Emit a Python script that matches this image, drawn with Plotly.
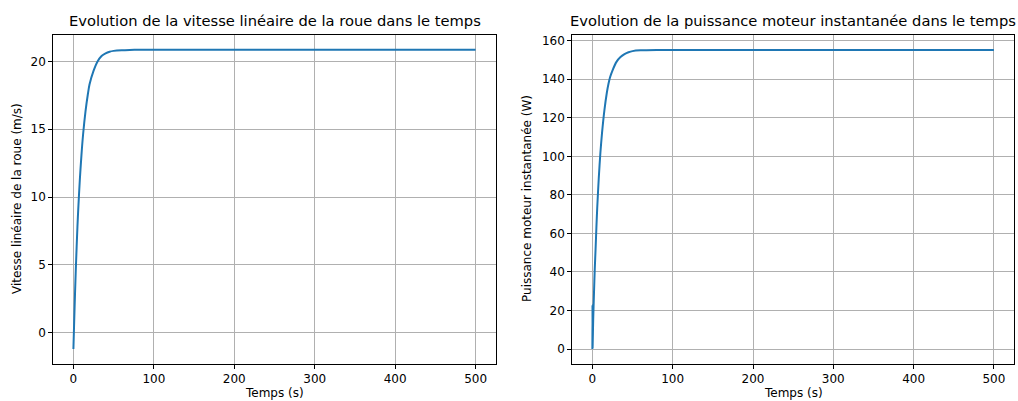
import plotly.graph_objects as go

# Data
t_vitesse = [0, 1, 2, 3, 4, 5, 6, 8, 10, 12, 15, 18, 20, 25, 30, 35, 40, 45, 50, 60, 70, 80, 100, 200, 300, 400, 500]
vitesse = [-1.2, 0.9, 2.9, 4.7, 6.3, 7.8, 9.1, 11.3, 13.1, 14.6, 16.3, 17.6, 18.3, 19.3, 20.0, 20.4, 20.6,
           20.72, 20.78, 20.83, 20.85, 20.86, 20.86, 20.86, 20.86, 20.86, 20.86]

t_puissance = [0, 0.15, 0.3, 1, 2, 3, 4, 5, 6, 8, 10, 12, 15, 18, 20, 22, 25, 30, 35, 40, 45, 50, 60, 80, 100,
               200, 300, 400, 500]
puissance = [0, 23, 1, 15, 29, 42, 52, 63, 73, 89, 102, 112, 124, 133, 137.5, 141, 144.5, 149, 151.5, 153, 154,
             154.6, 155, 155.2, 155.2, 155.2, 155.2, 155.2, 155.2]

titles = ["Evolution de la vitesse linéaire de la roue dans le temps",
          "Evolution de la puissance moteur instantanée dans le temps"]
ylabels = ["Vitesse linéaire de la roue (m/s)", "Puissance moteur instantanée (W)"]
xlabel = "Temps (s)"
x_ticks = [0, 100, 200, 300, 400, 500]
y_ticks_v = [0, 5, 10, 15, 20]
y_ticks_p = [0, 20, 40, 60, 80, 100, 120, 140, 160]

W, H = 1018, 401
BLUE = "#1f77b4"
FONT = "DejaVu Sans"

fig = go.Figure()
fig.add_trace(go.Scatter(x=t_vitesse, y=vitesse, mode="lines",
                         line=dict(color=BLUE, width=2, shape="spline", smoothing=0.8),
                         xaxis="x", yaxis="y", showlegend=False))
fig.add_trace(go.Scatter(x=t_puissance, y=puissance, mode="lines",
                         line=dict(color=BLUE, width=2, shape="spline", smoothing=0.7),
                         xaxis="x2", yaxis="y2", showlegend=False))

mt, mb = 35, 37
PH = H - mt - mb
d1 = [53.3 / W, 495.7 / W]
d2 = [572.3 / W, 1014 / W]

axis_common = dict(showline=True, mirror=True, linecolor="black", linewidth=1, ticks="outside", ticklen=4,
                   tickcolor="black", showgrid=True, gridcolor="#b0b0b0", gridwidth=1, zeroline=False,
                   automargin=False, tickfont=dict(family=FONT, size=12, color="black"))

fig.update_layout(
    width=W, height=H, plot_bgcolor="white", paper_bgcolor="white",
    margin=dict(l=0, r=0, t=mt, b=mb, autoexpand=False),
    font=dict(family=FONT, color="black"),
    xaxis=dict(domain=d1, range=[-25, 525], tickvals=x_ticks, anchor="y", **axis_common),
    yaxis=dict(domain=[0, 1], range=[-2.3, 21.95], tickvals=y_ticks_v, anchor="x", **axis_common),
    xaxis2=dict(domain=d2, range=[-25, 525], tickvals=x_ticks, anchor="y2", **axis_common),
    yaxis2=dict(domain=[0, 1], range=[-7.76, 162.96], tickvals=y_ticks_p, anchor="x2", **axis_common),
)


def py(pix):
    return (H - mb - pix) / PH


ann = []
for i, d in enumerate([d1, d2]):
    cx = (d[0] + d[1]) / 2
    ann.append(dict(text=titles[i], x=cx, y=py(21), xref="paper", yref="paper", showarrow=False,
                    xanchor="center", yanchor="middle", font=dict(family=FONT, size=14.7, color="black")))
    ann.append(dict(text=xlabel, x=cx, y=py(393), xref="paper", yref="paper", showarrow=False,
                    xanchor="center", yanchor="middle", font=dict(family=FONT, size=12, color="black")))
ann.append(dict(text=ylabels[0], x=17 / W, y=py(199), xref="paper", yref="paper",
                showarrow=False, textangle=-90, xanchor="center", yanchor="middle",
                font=dict(family=FONT, size=12, color="black")))
ann.append(dict(text=ylabels[1], x=527 / W, y=py(199), xref="paper", yref="paper",
                showarrow=False, textangle=-90, xanchor="center", yanchor="middle",
                font=dict(family=FONT, size=12, color="black")))
fig.update_layout(annotations=ann)

fig.write_html("out.html", config={"displayModeBar": False},
               post_script="document.body.style.margin='0';document.body.style.overflow='hidden';")
